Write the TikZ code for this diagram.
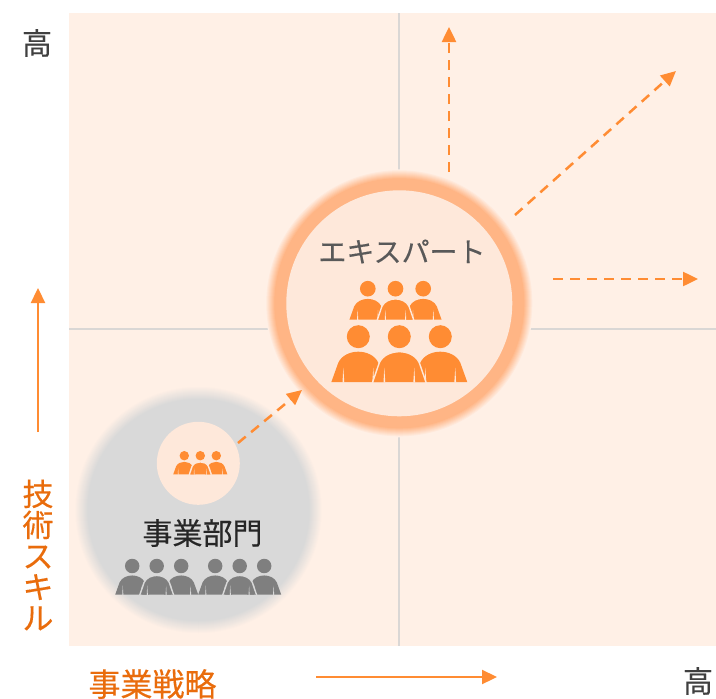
\documentclass[tikz,border=0pt]{standalone}
\usepackage{fontspec}
\setmainfont{Noto Sans CJK JP}
\newfontfamily\semibold[FakeBold=0.4]{Noto Sans CJK JP}
\newfontfamily\slight[FakeBold=0.3]{Noto Sans CJK JP}
\usetikzlibrary{arrows.meta}
\definecolor{panelbg}{HTML}{FFF0E6}
\definecolor{gridc}{HTML}{DAD7D5}
\definecolor{orangec}{HTML}{FF8C33}
\definecolor{ringc}{HTML}{FFB585}
\definecolor{innerc}{HTML}{FEE8DA}
\definecolor{greyc}{HTML}{D9D9D9}
\definecolor{persongrey}{HTML}{7F7F7F}
\definecolor{labelor}{HTML}{E96C0C}
\tikzset{
  dasharrow/.style={draw=orangec,line width=2.5pt,dash pattern=on 10pt off 7pt,-{Triangle[length=15pt,width=14pt]}},
  axisarrow/.style={draw=orangec,line width=2.3pt,-{Triangle[length=15pt,width=14pt]}},
  tlabel/.style={inner sep=0pt,outer sep=0pt,align=center},
}
% #1 head x, #2 head y, #3 scale, #4 fill, #5 outline width, #6 gap colour
\newcommand{\personbody}[6]{%
  \begin{scope}[shift={(#1,#2)},x=#3pt,y=-#3pt]
    \fill[#4] (0,0) circle[radius=11.5];
    \fill[#4]
      (-27,45.5) -- (-20,26) .. controls (-16.5,18.5) and (-8,15) .. (0,15)
      .. controls (8,15) and (16.5,18.5) .. (20,26) -- (27,45.5) -- cycle;
    \ifdim #5pt>0pt
      \draw[#6,line width=#5pt]
        (-27,46.5) -- (-20,26) .. controls (-16.5,18.5) and (-8,15) .. (0,15)
        .. controls (8,15) and (16.5,18.5) .. (20,26) -- (27,46.5);
    \fi
    \fill[#6] (14,46) -- (15,31) -- (15.8,46) -- cycle;
    \fill[#6] (-14,46) -- (-15,31) -- (-15.8,46) -- cycle;
  \end{scope}}
% #1 centre x, #2 y, #3 spacing, #4 scale, #5 fill, #6 gap colour
\newcommand{\persontrio}[6]{%
  \personbody{#1-#3}{#2}{#4}{#5}{0}{#6}
  \personbody{#1+#3}{#2}{#4}{#5}{0}{#6}
  \personbody{#1}{#2}{#4}{#5}{1.4}{#6}}
\begin{document}
\begin{tikzpicture}[x=1pt,y=-1pt]
  \useasboundingbox (0,0) rectangle (716,699);
  \fill[white] (0,0) rectangle (716,699);
  \fill[panelbg] (69,13) rectangle (716,646);
  \draw[gridc,line width=2.2pt] (399,13) -- (399,646);
  \draw[gridc,line width=2.2pt] (69,329) -- (716,329);
  % grey circle
  \foreach \i in {0,...,13}{
    \pgfmathsetmacro{\mixv}{\i*100/13}
    \fill[greyc!\mixv!panelbg] (198.5,510) circle[radius={124-\i}];
  }
  % big ring
  \foreach \i in {0,...,9}{
    \pgfmathsetmacro{\mixv}{\i*100/9}
    \fill[ringc!\mixv!panelbg] (399.3,303.3) circle[radius={134-\i}];
  }
  \node[circle,fill=innerc,minimum size=226pt,inner sep=0pt] (expert) at (399.3,303.3) {};
  \node[circle,fill=innerc,minimum size=83pt,inner sep=0pt] (small) at (198.3,463.3) {};
  % people
  \persontrio{399.3}{336.7}{41}{1}{orangec}{innerc}
  \persontrio{395.5}{288.7}{27.7}{0.68}{orangec}{innerc}
  \persontrio{200.3}{455.7}{16}{0.41}{orangec}{innerc}
  \persontrio{156.7}{566}{24.5}{0.63}{persongrey}{greyc}
  \persontrio{239.7}{566}{24.5}{0.63}{persongrey}{greyc}
  % labels
  \node[tlabel,text=black!65,font=\slight\fontsize{28}{28}\selectfont] (lexp) at (402,251.5) {エキスパート};
  \node[tlabel,text=black!85,font=\semibold\fontsize{30}{30}\selectfont] (lbiz) at (202.5,533) {事業部門};
  \node[tlabel,text=black!75,font=\slight\fontsize{30}{30}\selectfont] (hi1) at (37,43) {高};
  \node[tlabel,text=black!75,font=\slight\fontsize{30}{30}\selectfont] (hi2) at (698,681) {高};
  \node[tlabel,text=labelor,font=\slight\fontsize{31}{31}\selectfont] (ly) at (38,555) {技\\術\\ス\\キ\\ル};
  \node[tlabel,text=labelor,font=\slight\fontsize{32}{32}\selectfont] (lx) at (152.5,684) {事業戦略};
  % connectors
  \coordinate (a1s) at (449,172); \coordinate (a1e) at (449,27);
  \coordinate (a2s) at (515,215); \coordinate (a2e) at (676,71);
  \coordinate (a3s) at (553,279); \coordinate (a3e) at (698,279);
  \coordinate (a4s) at (238,443); \coordinate (a4e) at (302,390);
  \coordinate (ys) at (38,432); \coordinate (ye) at (38,288);
  \coordinate (xs) at (316,677); \coordinate (xe) at (497,677);
  \draw[dasharrow] (a1s) -- (a1e);
  \draw[dasharrow] (a2s) -- (a2e);
  \draw[dasharrow] (a3s) -- (a3e);
  \draw[dasharrow] (a4s) -- (a4e);
  \draw[axisarrow] (ys) -- (ye);
  \draw[axisarrow] (xs) -- (xe);
\end{tikzpicture}
\end{document}
